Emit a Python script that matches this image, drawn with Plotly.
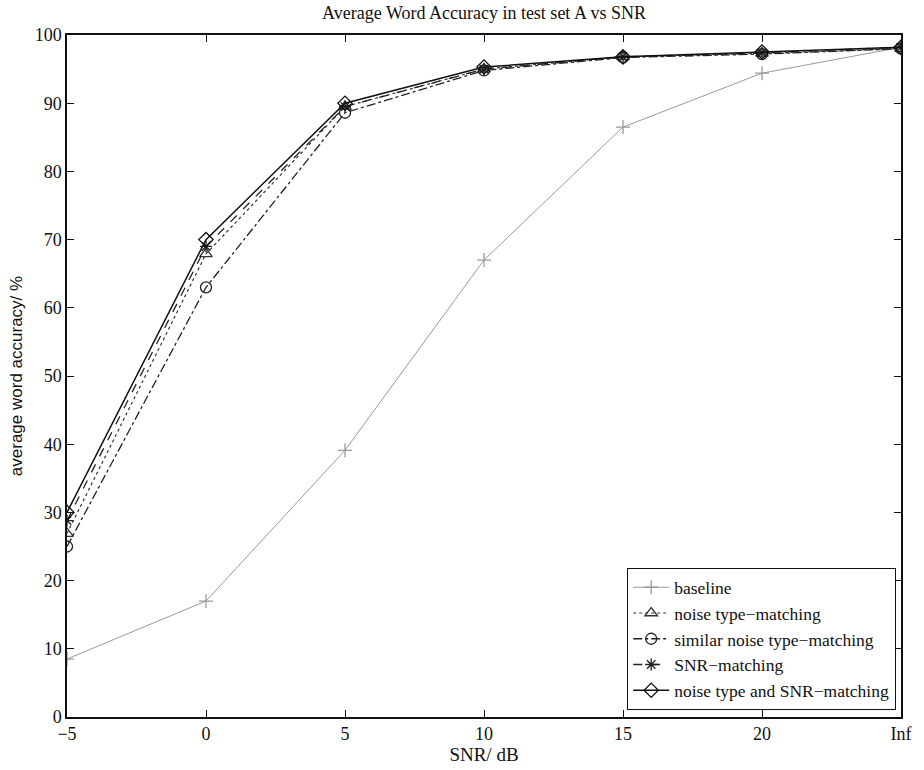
import plotly.graph_objects as go

snr_vals = [-5, 0, 5, 10, 15, 20, 25]
tick_labels = ["\u22125", "0", "5", "10", "15", "20", "Inf"]

baseline = [8.5, 17.0, 39.1, 67.0, 86.5, 94.4, 98.2]
noise_type = [26.9, 67.9, 89.5, 95.0, 96.8, 97.3, 98.0]
similar_noise = [25.0, 63.0, 88.6, 94.8, 96.7, 97.2, 98.0]
snr_match = [28.8, 69.0, 89.5, 95.0, 96.8, 97.4, 98.2]
both_match = [30.0, 70.0, 90.0, 95.3, 96.8, 97.5, 98.2]

FONT = "Liberation Serif"

series = [
    ("baseline", baseline, "#9a9a9a", "solid", "cross-thin-open", 10, 1),
    ("noise type\u2212matching", noise_type, "#333333", "dot", "triangle-up-open", 11, 1.2),
    ("similar noise type\u2212matching", similar_noise, "#222222", "dashdot", "circle-open", 11, 1.3),
    ("SNR\u2212matching", snr_match, "#222222", "dash", "asterisk-open", 10, 1.3),
    ("noise type and SNR\u2212matching", both_match, "#111111", "solid", "diamond-open", 11, 1.5),
]

fig = go.Figure()
for name, vals, col, dash, sym, sz, w in series:
    fig.add_trace(go.Scatter(
        x=snr_vals, y=vals, name=name, mode="lines+markers",
        line=dict(color=col, dash=dash, width=w),
        marker=dict(symbol=sym, size=sz, color=col, line=dict(color=col, width=1.3)),
    ))

fig.update_layout(
    width=924, height=770,
    paper_bgcolor="white", plot_bgcolor="white",
    margin=dict(l=67, r=17, t=35, b=52),
    font=dict(family=FONT, size=18, color="#111111"),
    title=dict(text="Average Word Accuracy in test set A vs SNR", x=0.5, xanchor="center",
               xref="paper", y=0.992, yanchor="top", font=dict(family=FONT, size=18)),
    showlegend=True,
    legend=dict(x=0.994, xanchor="right", y=0.01, yanchor="bottom",
                bgcolor="white", bordercolor="#111111", borderwidth=1.2,
                font=dict(family=FONT, size=17.5), tracegroupgap=0, itemwidth=36),
    xaxis=dict(range=[-5, 25], tickvals=snr_vals, ticktext=tick_labels,
               ticks="inside", ticklen=7, tickcolor="#111111", showgrid=False,
               zeroline=False, showline=True, linecolor="#111111", linewidth=1.5,
               mirror="ticks", tickfont=dict(size=18),
               title=dict(text="SNR/ dB", font=dict(family=FONT, size=19), standoff=0)),
    yaxis=dict(range=[0, 100], tickvals=list(range(0, 101, 10)),
               ticks="inside", ticklen=7, tickcolor="#111111", showgrid=False,
               zeroline=False, showline=True, linecolor="#111111", linewidth=1.5,
               mirror="ticks", tickfont=dict(size=18),
               title=dict(text="average word accuracy/ %",
                          font=dict(family="Liberation Sans", size=17), standoff=8)),
)

fig.write_html("out.html")
